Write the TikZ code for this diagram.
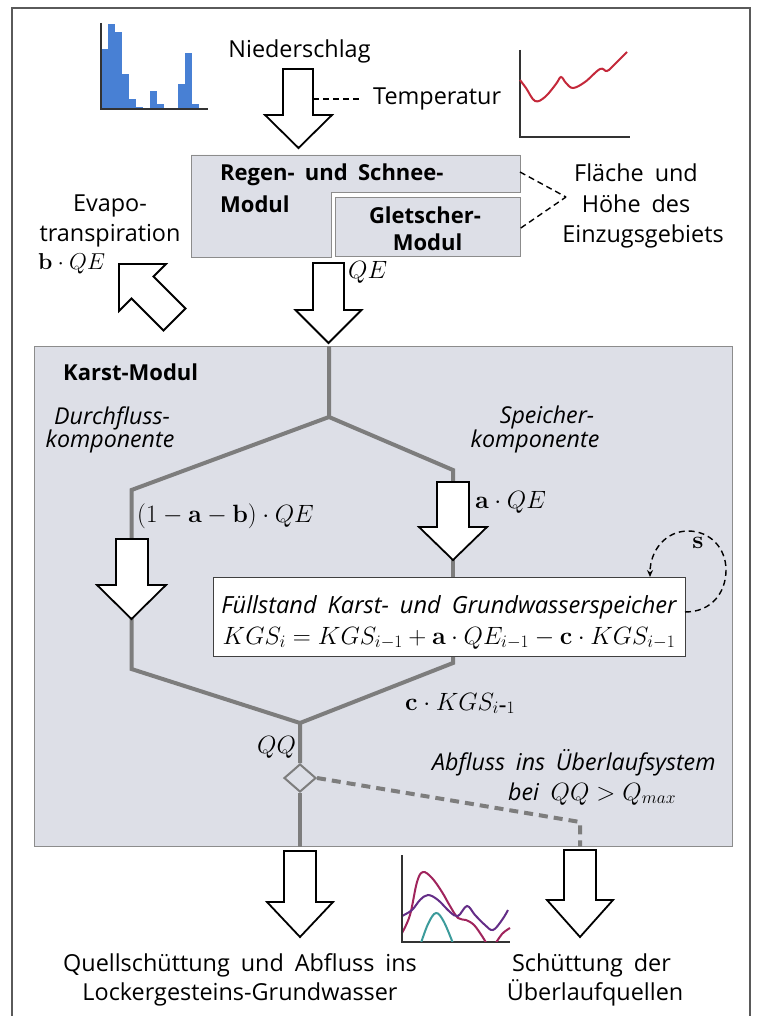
\RequirePackage{fix-cm}
\documentclass[tikz,border=0pt]{standalone}
\usepackage[no-math]{fontspec}
\setmainfont[WordSpace=1.8]{Open Sans}
\usetikzlibrary{arrows.meta,shapes.geometric}
\definecolor{boxfill}{RGB}{221,223,231}
\definecolor{boxline}{RGB}{140,140,140}
\definecolor{flowgray}{RGB}{125,125,125}
\definecolor{histblue}{RGB}{72,128,212}
\definecolor{tempred}{RGB}{196,40,58}
\definecolor{curvemag}{RGB}{160,36,92}
\definecolor{curvepur}{RGB}{100,45,135}
\definecolor{curveteal}{RGB}{60,155,155}
\definecolor{framegray}{RGB}{90,90,90}
\tikzset{
 blockarrow/.style={draw=black, fill=white, line width=1.8pt, line join=miter},
 flow/.style={draw=flowgray, line width=4pt},
 flowdash/.style={draw=flowgray, line width=4pt, dash pattern=on 9pt off 6pt},
 thindash/.style={draw=black, line width=1.4pt, dash pattern=on 6pt off 4pt},
 lbl/.style={inner sep=0pt, font=\fontsize{23.4}{28}\selectfont},
 lbli/.style={inner sep=0pt, font=\fontsize{23.2}{28}\selectfont\itshape},
 lblb/.style={inner sep=0pt, font=\fontsize{22}{28}\selectfont\bfseries},
 mlbl/.style={inner sep=0pt, font=\fontsize{25}{30}\selectfont},
 modbox/.style={fill=boxfill, draw=boxline, line width=0.8pt},
 chartaxis/.style={draw=black!80, line width=1.2pt},
 curve/.style={line width=2pt, smooth, tension=0.6},
}
\begin{document}
\begin{tikzpicture}[x=1pt,y=-1pt]
\useasboundingbox (0,0) rectangle (757,1016);
\fill[white] (0,0) rectangle (757,1016);
\draw[draw=framegray, line width=1.2pt] (12,1016) -- (12,8) -- (750,8) -- (750,1016);

% precipitation histogram
\foreach \xa/\tp in {101/49,108/24,115/32,122/74,129/99,136/107,150/91,157/104,178/84,185/53,192/104}
  \fill[histblue] (\xa,109) rectangle (\xa+7,\tp);
\draw[chartaxis] (101,23) -- (101,109) -- (208,109);

% temperature chart
\draw[chartaxis] (520,50) -- (520,137) -- (630,137);
\draw[tempred, curve] plot coordinates {(520,80) (526,88) (535,101) (545,97) (556,84) (561,77) (566,83) (573,88) (585,82) (600,69) (607,71) (615,64) (627,52)};

% discharge chart
\draw[chartaxis] (402,855) -- (402,942) -- (510,942);
\begin{scope}
\clip (403,850) rectangle (512,941);
\draw[curvemag, curve] plot coordinates {(402,933) (410,915) (417,882) (423,872) (432,878) (442,892) (450,906) (458,918) (466,920) (474,925) (482,936) (488,946)};
\draw[curvemag, curve] plot coordinates {(494,946) (502,934) (510,928)};
\draw[curvepur, curve] plot coordinates {(402,916) (412,910) (420,900) (428,895) (438,900) (450,912) (458,916) (467,906) (475,915) (485,925) (493,930) (502,920) (508,910)};
\draw[curveteal, curve] plot coordinates {(420,946) (428,924) (436,913) (444,922) (454,946)};
\end{scope}

% Regen- und Schnee-Modul and Gletscher-Modul
\filldraw[modbox] (191,155) -- (520,155) -- (520,192) -- (331,192) -- (331,257) -- (191,257) -- cycle;
\coordinate (regenE) at (520,172);
\node[modbox, anchor=north west, minimum width=185pt, minimum height=59pt, inner sep=0pt] (glet) at (335,197) {};
\node[lblb, anchor=base west] (regen1) at (220,181) {Regen- und Schnee-};
\node[lblb, anchor=base west] (regen2) at (220,213) {Modul};
\node[lblb, anchor=base] (glet1) at (425,223) {Gletscher-};
\node[lblb, anchor=base] (glet2) at (427.5,250) {Modul};

% Karst module box
\node[modbox, anchor=north west, minimum width=698pt, minimum height=500pt, inner sep=0pt] (karst) at (34,346) {};
\node[lblb, anchor=base west] (karstt) at (63,380) {Karst-Modul};

% top texts
\node[lbl, anchor=base] (nied) at (299.5,58) {Niederschlag};
\node[lbl, anchor=base west] (temp) at (373,105) {Temperatur};
\coordinate (tdash) at (360,99);
\draw[thindash] (313,99) -- (tdash);
\node[lbl, anchor=base] (evap1) at (110,212) {Evapo-};
\node[lbl, anchor=base] (evap2) at (110,241) {transpiration};
\node[inner sep=0pt, font=\fontsize{23}{28}\selectfont, anchor=base west] (bqe) at (38,269) {$\mathbf{b}\cdot QE$};
\node[mlbl, anchor=base west] (qe) at (348,278) {$QE$};
\node[lbl, anchor=base] (fl1) at (636,182) {Fläche und};
\node[lbl, anchor=base] (fl2) at (636,213) {Höhe des};
\node[lbl, anchor=base] (fl3) at (643,242) {Einzugsgebiets};
\coordinate (fconv) at (566,197);
\draw[thindash] (regenE) -- (fconv);
\draw[thindash] (glet.east |- 0,228) -- (fconv);

% flow lines
\coordinate (ktop) at (karst.north -| 329,0);
\coordinate (split) at (329,417);
\coordinate (lbend) at (131.5,490);
\coordinate (ltop) at (131.5,541);
\coordinate (ltip) at (131.5,617);
\coordinate (lbot) at (131.5,669);
\coordinate (rbend) at (453,470);
\coordinate (rtop) at (453,483);
\coordinate (rtip) at (453,558);
\coordinate (rlow) at (453,663);
\coordinate (merge) at (300,723);
\coordinate (oend) at (580,822);

\node[draw=black!75, fill=white, line width=1pt, anchor=north west, minimum width=472pt, minimum height=79pt, inner sep=0pt] (fuell) at (213,577) {};
\node[inner sep=0pt, font=\fontsize{23.6}{28}\selectfont\itshape, anchor=base] (fuell1) at (449,613) {Füllstand Karst- und Grundwasserspeicher};
\node[inner sep=0pt, font=\fontsize{25}{30}\selectfont, anchor=base] (fuell2) at (449,644) {$KGS_i = KGS_{i-1} + \mathbf{a}\cdot QE_{i-1} - \mathbf{c}\cdot KGS_{i-1}$};

\node[diamond, draw=flowgray, line width=2pt, fill=boxfill, minimum width=32pt, minimum height=28pt, inner sep=0pt] (dia) at (300,778) {};

\draw[flow] (ktop) -- (split) -- (lbend) -- (ltop);
\draw[flow] (split) -- (rbend) -- (rtop);
\draw[flow] (rtip) -- (rtip |- fuell.north);
\draw[flow] (ltip) -- (lbot) -- (merge) -- (dia.north);
\draw[flow] (rtip |- fuell.south) -- (rlow) -- (merge);
\draw[flow] (dia.south) -- (dia.south |- karst.south);
\draw[flowdash] (dia.east) -- (oend) -- (oend |- karst.south);

% self loop
\coordinate (ls) at (685,612);
\coordinate (le) at (650,577);
\draw[thindash, -{Stealth[length=7pt,width=6pt]}] (ls) .. controls (712,612) and (726,592) .. (726,570) .. controls (726,548) and (710,531) .. (688,531) .. controls (666,531) and (650,550) .. (le);
\node[mlbl, fill=boxfill, inner sep=1pt] (slbl) at (698,543) {$\mathbf{s}$};

% karst labels
\node[lbli, anchor=base] (dk1) at (112,424) {Durchfluss-};
\node[lbli, anchor=base] (dk2) at (110,447) {komponente};
\node[lbli, anchor=base] (sk1) at (547,423) {Speicher-};
\node[lbli, anchor=base] (sk2) at (535,447) {komponente};
\node[mlbl, anchor=base west] (dq) at (137,522) {$(1-\mathbf{a}-\mathbf{b})\cdot QE$};
\node[mlbl, anchor=base west] (sq) at (475,508) {$\mathbf{a}\cdot QE$};
\node[mlbl, anchor=base west] (ckgs) at (405,710) {$\mathbf{c}\cdot KGS_{i\mbox{-}1}$};
\node[mlbl, anchor=base west] (qq) at (257,753) {$QQ$};
\node[lbli, anchor=base west] (ab1) at (432,770) {Abfluss ins Überlaufsystem};
\node[mlbl, anchor=base west] (ab2) at (508,800) {{\fontsize{23.2}{28}\selectfont\itshape bei}\ $QQ > Q_{max}$};

% block arrows
\draw[blockarrow] (283,69) -- (313,69) -- (313,115) -- (332,115) -- (298.5,148) -- (265,115) -- (283,115) -- cycle;
\draw[blockarrow] (313,263) -- (344,263) -- (344,310) -- (361.5,310) -- (328.5,343) -- (295.5,310) -- (313,310) -- cycle;
\draw[blockarrow] (119,264) -- (166,264) -- (153.5,276.5) -- (185.5,308.5) -- (163.5,330.5) -- (131.5,298.5) -- (119,311) -- cycle;
\draw[blockarrow] (116,539) -- (148,539) -- (148,585) -- (166,585) -- (131.5,619) -- (97,585) -- (116,585) -- cycle;
\draw[blockarrow] (437,482) -- (469,482) -- (469,527) -- (487,527) -- (453,560) -- (419,527) -- (437,527) -- cycle;
\draw[blockarrow] (284,851) -- (316,851) -- (316,902) -- (333,902) -- (300,937) -- (267,902) -- (284,902) -- cycle;
\draw[blockarrow] (564,850) -- (596,850) -- (596,900) -- (613,900) -- (580,937) -- (547,900) -- (564,900) -- cycle;

% bottom texts
\node[lbl, anchor=base] (out1) at (240,971) {Quellschüttung und Abfluss ins};
\node[lbl, anchor=base] (out2) at (240,1000) {Lockergesteins-Grundwasser};
\node[lbl, anchor=base] (ov1) at (591.5,971) {Schüttung der};
\node[lbl, anchor=base] (ov2) at (595,1000) {Überlaufquellen};
\end{tikzpicture}
\end{document}
